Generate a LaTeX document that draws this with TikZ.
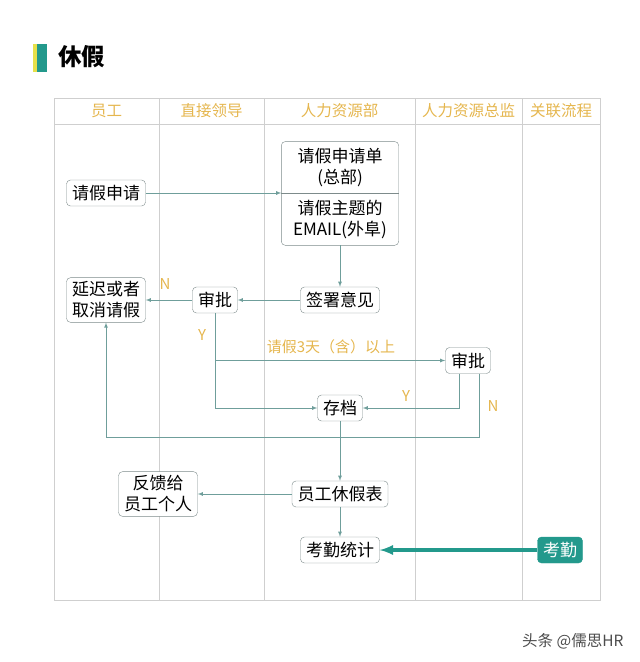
\documentclass[tikz,border=0pt]{standalone}
\usepackage{fontspec}
\setmainfont{Noto Sans CJK SC}
\usetikzlibrary{arrows,calc,positioning}

\definecolor{gridgray}{HTML}{CFCFCF}
\definecolor{flowline}{HTML}{6F9E9B}
\definecolor{boxline}{HTML}{7D8B8B}
\definecolor{headtext}{HTML}{E5B64E}
\definecolor{tealfill}{HTML}{23998C}
\definecolor{baryellow}{HTML}{E6E04A}

\begin{document}
\begin{tikzpicture}[x=1pt,y=-1pt,
  block/.style={draw=boxline,rounded corners=4pt,fill=white,minimum height=26pt,
    inner xsep=5.5pt,inner ysep=4pt,align=center,font=\fontsize{17}{21}\selectfont},
  half/.style={minimum width=117pt,minimum height=51.5pt,inner sep=0pt,align=center,
    font=\fontsize{17}{21}\selectfont},
  head/.style={text=headtext,font=\fontsize{15.5}{18}\selectfont},
  tag/.style={text=headtext,font=\fontsize{15}{18}\selectfont},
  flow/.style={draw=flowline,line width=0.8pt,-latex}]

\useasboundingbox (0,0) rectangle (640,662);

% title
\fill[baryellow] (33,44) rectangle (37,72);
\fill[tealfill] (37,44) rectangle (47,72);
\node[anchor=west,inner sep=0pt,font=\fontsize{23.5}{26}\selectfont\bfseries] (title) at (58,57) {休假};

% lanes
\draw[gridgray] (54,98) rectangle (600,600);
\draw[gridgray] (54,124) -- (600,124);
\foreach \x in {159,264,415,522}
  \draw[gridgray] (\x,98) -- (\x,600);

\node[head] (h1) at (106.5,111) {员工};
\node[head] (h2) at (211.5,111) {直接领导};
\node[head] (h3) at (339.5,111) {人力资源部};
\node[head] (h4) at (468.5,111) {人力资源总监};
\node[head] (h5) at (561,111) {关联流程};

% steps
\node[block] (apply) at (106,193) {请假申请};

\node[half] (form) at (340,167.5) {请假申请单\\(总部)};
\node[half,below=0pt of form] (mail) {请假主题的\\EMAIL(外阜)};
\draw[boxline,rounded corners=4pt] (form.north west) rectangle (mail.south east);
\draw[boxline] (form.south west) -- (form.south east);

\node[block] (sign) at (340,300) {签署意见};
\node[block] (ok1) at (215,300) {审批};
\node[block] (delay) at (106,300) {延迟或者\\取消请假};
\node[block] (ok2) at (468,360.5) {审批};
\node[block] (file) at (340,408) {存档};
\node[block] (leave) at (340,494) {员工休假表};
\node[block] (reply) at (158,494) {反馈给\\员工个人};
\node[block] (count) at (340,550) {考勤统计};
\node[block,draw=tealfill,fill=tealfill,text=white] (att) at (560,550) {考勤};

\coordinate (yes2) at ($(ok2.south)+(-9,0)$);
\coordinate (no2) at ($(ok2.south)+(11,0)$);
\coordinate (back) at (no2 |- 0,437);

\draw[flow] (apply) -- (apply -| mail.west);
\draw[flow] (mail) -- (sign);
\draw[flow] (sign) -- (ok1);
\draw[flow] (ok1) -- (delay);
\draw[flow] (ok1) |- (file);
\draw[flow] (ok1.south |- ok2.west) -- (ok2.west);
\draw[flow] (yes2) |- (file);
\draw[flow] (no2) -- (back) -| (delay);
\draw[flow] (file) -- (leave);
\draw[flow] (leave) -- (reply);
\draw[flow] (leave) -- (count);
\draw[flow,draw=tealfill,line width=3.5pt] (att) -- (count);

\node[tag] (n1) at (165,284) {N};
\node[tag] (y1) at (202,335) {Y};
\node[tag] (days) at (331,347) {请假3天（含）以上};
\node[tag] (y2) at (406,396) {Y};
\node[tag] (n2) at (493,406) {N};

\node[text=black!70,anchor=east,font=\fontsize{15.5}{18}\selectfont] (mark) at (627,641) {头条 @儒思HR};
\end{tikzpicture}
\end{document}
